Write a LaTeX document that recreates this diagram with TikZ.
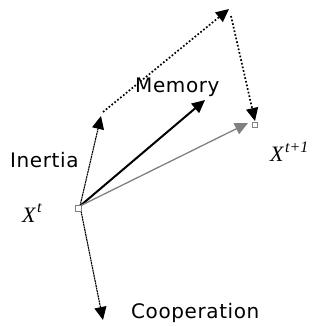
\documentclass[tikz,border=0pt]{standalone}
\usepackage{fontspec}
\setmainfont{DejaVu Sans}[LetterSpace=3]
\newfontfamily\xfont{Liberation Serif}
\usetikzlibrary{arrows.meta}
\newcommand{\supx}[1]{\raisebox{0.42em}{\fontsize{16}{16}\selectfont\kern1.5pt #1}}
\begin{document}
\begin{tikzpicture}[x=1pt,y=-1pt,
  tip/.style={-{Triangle[length=13pt,width=12pt]}},
  lbl/.style={font=\fontsize{20}{20}\selectfont, inner sep=0pt},
  xl/.style={font=\xfont\itshape\fontsize{22}{22}\selectfont, inner sep=0pt},
  sq/.style={draw, fill=white, minimum size=6pt, inner sep=0pt, line width=0.8pt}]
\useasboundingbox (0,0) rectangle (322,327);
\coordinate (O) at (80,206);
\coordinate (I) at (101,116);
\coordinate (M) at (205,100);
\coordinate (T) at (229,9);
\coordinate (G) at (248,123);
\coordinate (N) at (255,121);
\coordinate (C) at (103,320);
\coordinate (Ib) at (103,112);
\coordinate (Tb) at (231,16);
\draw[tip, dash pattern=on 2pt off 0.6pt, line width=1.1pt] (O) -- (I);
\draw[tip, dash pattern=on 2pt off 0.6pt, line width=1.1pt] (O) -- (C);
\draw[tip, line width=2pt] (O) -- (M);
\draw[tip, gray, line width=1.3pt] (O) -- (G);
\draw[tip, dotted, line width=1.7pt] (Ib) -- (T);
\draw[tip, dotted, line width=1.7pt] (Tb) -- (N);
\node[sq, draw=gray] (s0) at (78,208) {};
\node[sq, draw=gray, minimum size=5pt] (s1) at (255,125) {};
\node[lbl, anchor=west] (in) at (10,160) {Inertia};
\node[lbl, anchor=west] (me) at (135,87) {Memory};
\node[lbl, anchor=west] (co) at (131,313) {Cooperation};
\node[xl, anchor=west] (xt) at (22,213) {X\supx{t}};
\node[xl, anchor=west] (xt1) at (270,152) {X\supx{t+1}};
\end{tikzpicture}
\end{document}
